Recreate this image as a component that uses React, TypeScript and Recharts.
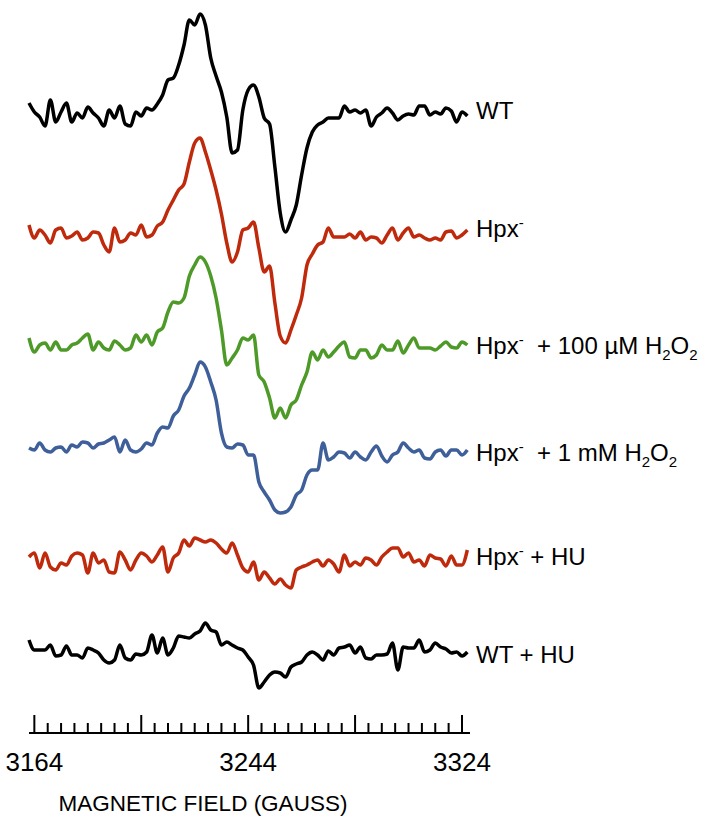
import { LineChart, Line, XAxis, YAxis } from 'recharts'

// magnetic field grid (gauss)
const fields = [
  3162, 3164, 3166, 3168, 3170, 3172, 3174, 3176, 3178, 3180,
  3182, 3184, 3186, 3188, 3190, 3192, 3194, 3196, 3198, 3200,
  3202, 3204, 3206, 3208, 3210, 3212, 3214, 3216, 3218, 3220,
  3222, 3224, 3226, 3228, 3230, 3232, 3234, 3236, 3238, 3240,
  3242, 3244, 3246, 3248, 3250, 3252, 3254, 3256, 3258, 3260,
  3262, 3264, 3266, 3268, 3270, 3272, 3274, 3276, 3278, 3280,
  3282, 3284, 3286, 3288, 3290, 3292, 3294, 3296, 3298, 3300,
  3302, 3304, 3306, 3308, 3310, 3312, 3314, 3316, 3318, 3320,
  3322, 3324, 3326,
]

// EPR signal, arbitrary units, one value per field point
const wt = [
  10, 1, -4, -13, 13, -9, 1, 10, -9, 0,
  -5, 6, 0, -5, -13, 3, -5, 7, -11, -13,
  1, -3, 5, 3, 9, 18, 33, 35, 48, 68,
  93, 88, 99, 88, 55, 37, 21, -4, -40, -37,
  3, 23, 28, 16, -5, -11, -54, -100, -119, -107,
  -92, -62, -35, -19, -12, -9, -5, -5, -5, 7,
  1, 3, 0, 3, -13, -4, 0, 5, 0, -7,
  -3, -1, -2, 7, 7, -2, 1, -1, 5, 2,
  -9, 1, -3,
]
const hpx = [
  11, -2, 6, 1, -7, 6, 8, -2, 0, 4,
  -4, -2, 4, 3, -9, -16, 8, -6, -4, 3,
  1, 11, -1, 1, 10, 14, 26, 36, 46, 52,
  74, 93, 98, 84, 66, 46, 22, -7, -26, -16,
  6, 8, 14, -12, -36, -30, -67, -100, -107, -94,
  -79, -62, -29, -18, -9, -6, 8, -1, -1, -1,
  2, -2, 4, -4, -1, -2, -7, 1, 8, -4,
  3, 8, -1, 1, -2, -4, -2, -4, 4, 5,
  -2, 1, 6,
]
const hpxH2o2Low = [
  8, -6, 1, 3, -4, 4, -4, -4, 1, 3,
  8, 12, -4, 4, -2, -4, 5, 1, -4, -2,
  11, 4, 11, 1, 14, 18, 34, 44, 43, 48,
  70, 81, 89, 84, 70, 48, 16, -19, -12, -4,
  8, 6, 11, -29, -36, -52, -72, -62, -72, -59,
  -54, -39, -26, -6, -14, -4, -11, -6, 0, 4,
  -11, -12, -4, -4, -12, -9, 1, -4, -4, 5,
  -7, 1, 8, -2, -2, -2, -4, 0, 4, -1,
  -2, 4, 1,
]
const hpxH2o2High = [
  2, 0, 7, 0, -2, 2, 3, -2, 5, 3,
  8, 7, 2, 6, 7, 10, 13, -2, 10, 0,
  -2, 1, 7, 5, 17, 23, 22, 34, 40, 54,
  62, 75, 88, 83, 68, 50, 17, 3, 2, 6,
  5, -5, -5, -32, -42, -50, -60, -63, -62, -57,
  -45, -40, -25, -20, -20, 7, -10, -7, -2, -3,
  -8, -2, -7, -10, -2, 4, -6, -12, -5, -2,
  7, 2, -2, 0, -8, -9, -2, 0, -6, 0,
  0, -5, 0,
]
const hpxHu = [
  3, 7, -8, 7, -7, -10, -3, -5, 4, 7,
  5, -13, 7, -3, 0, -12, -13, 8, 0, -10,
  0, 7, 4, -2, 5, 13, -12, 2, 7, 20,
  14, 22, 20, 18, 20, 17, 11, 7, 17, 5,
  -8, -12, -2, -20, -12, -18, -24, -19, -25, -28,
  -10, -7, -5, -2, 0, -6, 0, -4, -12, 5,
  -6, -2, -5, 2, 0, -5, 3, 8, 12, 12,
  3, 7, -2, 0, -6, 5, 2, 1, -6, 4,
  -5, -5, 10,
]
const wtHu = [
  12, 2, 2, 2, 7, -4, -3, 6, -3, -3,
  -6, 4, 2, -1, -8, -11, -8, 7, -6, -8,
  -2, -3, 0, 17, -1, 14, -3, 4, 16, 15,
  14, 18, 21, 29, 22, 20, 7, 10, 7, 4,
  2, -5, -13, -36, -30, -23, -20, -21, -25, -15,
  -12, -10, -3, 0, -3, -8, 1, -3, 4, 5,
  7, -1, 5, -6, -7, -3, -3, -2, 9, -18,
  5, 4, 4, 12, 0, 2, 9, 5, 3, -1,
  0, -4, 0,
]

const tickFields = [
  3164, 3169, 3174, 3179, 3184, 3189, 3194, 3199, 3204, 3209, 3214,
  3219, 3224, 3229, 3234, 3239, 3244, 3249, 3254, 3259, 3264, 3269,
  3274, 3279, 3284, 3289, 3294, 3299, 3304, 3309, 3314, 3319, 3324,
]
const majorTicks = [3164, 3204, 3244, 3284, 3324]
const labelledTicks = [3164, 3244, 3324]

const FONT = '"Liberation Sans", Arial, Helvetica, sans-serif'

// vertical stacking of the traces (plot units == px here)
const series = [
  { key: 'wt', values: wt, color: '#000000', offset: 620 },
  { key: 'hpx', values: hpx, color: '#bf2a0c', offset: 497 },
  { key: 'hpxLow', values: hpxH2o2Low, color: '#4e9a28', offset: 387 },
  { key: 'hpxHigh', values: hpxH2o2High, color: '#3e5f99', offset: 283 },
  { key: 'hpxHu', values: hpxHu, color: '#bf2a0c', offset: 173 },
  { key: 'wtHu', values: wtHu, color: '#000000', offset: 81 },
]

const data = fields.map((f, i) => {
  const row: Record<string, number> = { field: f }
  series.forEach((s) => {
    row[s.key] = s.values[i] + s.offset
  })
  return row
})

type Part = { t: string; sup?: boolean; sub?: boolean }
const traceLabels: { y: number; parts: Part[] }[] = [
  { y: 111, parts: [{ t: 'WT' }] },
  { y: 229, parts: [{ t: 'Hpx' }, { t: '-', sup: true }] },
  { y: 346, parts: [{ t: 'Hpx' }, { t: '-', sup: true }, { t: '  + 100 µM H' }, { t: '2', sub: true }, { t: 'O' }, { t: '2', sub: true }] },
  { y: 453, parts: [{ t: 'Hpx' }, { t: '-', sup: true }, { t: '  + 1 mM H' }, { t: '2', sub: true }, { t: 'O' }, { t: '2', sub: true }] },
  { y: 557, parts: [{ t: 'Hpx' }, { t: '-', sup: true }, { t: ' + HU' }] },
  { y: 655, parts: [{ t: 'WT + HU' }] },
]

function FieldTick(props: any) {
  const { x, y, payload } = props
  const v = payload.value
  const major = majorTicks.includes(v)
  return (
    <g>
      <line x1={x} x2={x} y1={y} y2={y - (major ? 18 : 10)} stroke="#000" strokeWidth={2} />
      {labelledTicks.includes(v) && (
        <text x={x} y={y + 38} textAnchor="middle" fontSize={26} fontFamily={FONT} fill="#000">
          {v}
        </text>
      )}
    </g>
  )
}

function TraceLabel({ y, parts }: { y: number; parts: Part[] }) {
  let shift = 0
  return (
    <text x={476} y={y + 8} fontSize={24} fontFamily={FONT} fill="#000" style={{ whiteSpace: 'pre' }}>
      {parts.map((p, i) => {
        const target = p.sup ? -9 : p.sub ? 6 : 0
        const dy = target - shift
        shift = target
        return (
          <tspan key={i} dy={dy} fontSize={p.sup || p.sub ? 15 : 24}>
            {p.t}
          </tspan>
        )
      })}
    </text>
  )
}

export default function App() {
  return (
    <div style={{ position: 'absolute', left: 0, top: 0, width: 718, height: 826, background: '#fff' }}>
      <LineChart width={718} height={826} data={data} margin={{ top: 0, right: 248, bottom: 0, left: 29 }}>
        <XAxis
          dataKey="field"
          type="number"
          domain={[3162, 3327]}
          ticks={tickFields}
          interval={0}
          height={93}
          tickSize={0}
          tickMargin={0}
          tickLine={false}
          axisLine={{ stroke: '#000', strokeWidth: 2 }}
          tick={<FieldTick />}
        />
        <YAxis hide domain={[0, 733]} type="number" />
        {series.map((s) => (
          <Line
            key={s.key}
            dataKey={s.key}
            type="monotone"
            stroke={s.color}
            strokeWidth={3.5}
            strokeLinejoin="round"
            dot={false}
            isAnimationActive={false}
          />
        ))}
      </LineChart>
      <svg width={718} height={826} style={{ position: 'absolute', left: 0, top: 0, pointerEvents: 'none' }}>
        {traceLabels.map((l, i) => (
          <TraceLabel key={i} y={l.y} parts={l.parts} />
        ))}
        <text x={203} y={811} textAnchor="middle" fontSize={22.5} fontFamily={FONT} fill="#000">
          MAGNETIC FIELD (GAUSS)
        </text>
      </svg>
    </div>
  )
}
